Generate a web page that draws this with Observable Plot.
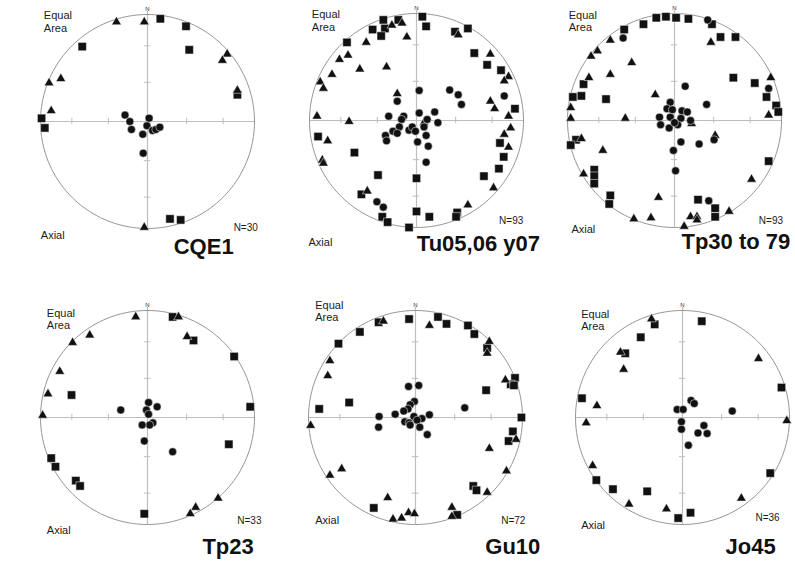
<!DOCTYPE html>
<html><head><meta charset="utf-8">
<script src="https://cdn.jsdelivr.net/npm/d3@7"></script>
<script src="https://cdn.jsdelivr.net/npm/@observablehq/plot@0.6"></script>
<style>
body{margin:0;background:#fff;}
#wrap{position:relative;width:795px;height:582px;overflow:hidden;background:#fff;}
#wrap svg{position:absolute;}
</style></head><body><div id="wrap"></div>
<script>
// ---- data (unit-circle coordinates: x east, y north) ----
const panelNames = ["CQE1", "Tu05,06 y07", "Tp30 to 79", "Tp23", "Gu10", "Jo45"];
const panelCounts = [30, 93, 93, 33, 72, 36];

const tri1 = [[-0.29,0.93],[-0.03,0.93],[0.745,0.63],[0.70,0.57],[-0.92,0.36],[-0.81,0.40],[-0.90,0.10],[0.84,0.29],[-0.03,-0.99]];
const sq1 = [[0.12,0.96],[0.36,0.89],[-0.61,0.70],[0.39,0.67],[0.84,0.25],[-0.99,0.03],[-0.96,-0.06],[0.21,-0.91],[0.31,-0.92]];
const dot1 = [[-0.21,0.06],[-0.165,0.0],[-0.15,-0.075],[0.015,0.03],[-0.005,-0.04],[0.047,-0.084],[0.078,-0.075],[0.115,-0.053],[-0.044,-0.12],[-0.04,-0.296]];

const sq2 = [[-0.31,0.94],[-0.17,0.94],[0.055,0.97],[0.09,0.88],[-0.41,0.85],[-0.295,0.86],[-0.33,0.79],[-0.65,0.73],[0.36,0.83],[0.48,0.86],[0.54,0.63],[0.66,0.52],[0.79,0.47],[0.92,0.11],[-0.92,-0.15],[-0.58,-0.30],[0.78,-0.21],[0.815,-0.34],[0.77,-0.45],[0.63,-0.52],[-0.36,-0.51],[0.0,-0.54],[-0.515,-0.69],[-0.32,-0.90],[-0.27,-0.95],[-0.07,-1.0],[0.0,-0.85],[0.12,-0.90],[0.38,-0.86],[0.37,-0.90]];
const tri2 = [[-0.23,0.89],[-0.135,0.91],[-0.09,0.78],[-0.47,0.73],[-0.64,0.61],[-0.72,0.57],[-0.79,0.43],[-0.53,0.48],[-0.28,0.50],[-0.90,0.36],[-0.87,0.30],[0.39,0.80],[0.69,0.62],[0.86,0.41],[0.82,0.37],[0.69,0.18],[0.73,0.11],[0.86,0.04],[0.88,-0.07],[0.82,-0.13],[0.86,-0.25],[-0.18,0.25],[-0.93,0.04],[-0.63,-0.01],[-0.83,-0.19],[-0.88,-0.37],[-0.87,-0.40],[-0.46,-0.66],[0.72,-0.63],[0.48,-0.79],[0.07,-0.02]];
const dot2 = [[0.025,0.28],[0.31,0.285],[0.39,0.24],[0.42,0.15],[0.82,0.23],[-0.18,0.18],[0.025,0.07],[0.17,0.08],[-0.26,0.04],[-0.12,0.04],[-0.14,0.01],[0.10,0.01],[0.20,-0.02],[-0.16,-0.06],[-0.22,-0.10],[-0.18,-0.12],[-0.29,-0.14],[-0.28,-0.19],[-0.07,-0.09],[-0.04,-0.06],[-0.01,-0.10],[0.07,-0.06],[0.09,-0.14],[0.01,-0.20],[0.11,-0.24],[0.09,-0.39],[-0.37,-0.76],[-0.31,-0.81]];

const sq3 = [[-0.17,0.96],[-0.08,0.97],[0.015,0.96],[0.13,0.95],[-0.29,0.90],[-0.47,0.85],[0.35,0.90],[0.43,0.78],[0.57,0.78],[0.55,0.40],[0.75,0.35],[0.86,0.22],[0.95,0.14],[0.97,0.08],[-0.85,0.34],[-0.95,0.22],[-0.87,0.23],[-0.64,0.20],[-0.92,-0.18],[-0.97,-0.23],[-0.75,-0.46],[-0.75,-0.52],[-0.75,-0.59],[-0.60,-0.70],[-0.61,-0.78],[0.22,-0.74],[0.38,-0.82],[0.38,-0.90],[0.88,-0.38]];
const tri3 = [[-0.60,0.75],[-0.72,0.65],[-0.78,0.60],[-0.40,0.54],[-0.60,0.43],[-0.80,0.40],[0.34,0.73],[0.90,0.40],[-0.18,0.24],[-0.97,0.12],[-0.97,0.02],[-0.46,0.02],[0.88,0.05],[-0.87,-0.17],[-0.67,-0.28],[-0.85,-0.50],[0.38,-0.14],[0.72,-0.55],[-0.15,-0.72],[-0.38,-0.92],[-0.22,-0.91],[0.15,-0.90],[0.21,-0.90],[0.21,-0.93],[0.51,-0.85],[0.09,-0.99],[0.16,-0.03]];
const dot3 = [[-0.48,0.77],[0.31,0.94],[0.88,0.30],[0.10,0.32],[0.30,0.15],[-0.04,0.17],[-0.07,0.11],[-0.02,0.10],[0.07,0.09],[0.12,0.08],[-0.14,0.03],[-0.04,0.03],[0.06,0.02],[0.15,0.0],[-0.13,-0.04],[-0.05,-0.07],[0.03,-0.04],[0.0,-0.02],[0.06,-0.20],[0.23,-0.22],[0.37,-0.18],[-0.01,-0.28],[0.01,-0.47],[0.32,-0.75]];

const tri4 = [[-0.11,0.94],[0.29,0.94],[0.37,0.755],[-0.54,0.77],[-0.70,0.70],[-0.82,0.43],[-0.93,0.22],[-0.98,0.02],[0.66,-0.755],[0.45,-0.84],[0.40,-0.90]];
const sq4 = [[0.235,0.94],[0.43,0.72],[0.81,0.57],[0.96,0.10],[-0.71,0.21],[0.76,-0.25],[-0.90,-0.38],[-0.86,-0.46],[-0.67,-0.59],[-0.63,-0.64],[-0.03,-0.90]];
const dot4 = [[0.01,0.14],[0.09,0.10],[-0.25,0.07],[-0.01,0.07],[0.01,0.03],[0.05,-0.05],[0.02,-0.07],[-0.05,-0.07],[-0.03,-0.22],[0.235,-0.32]];

const sq5 = [[-0.345,0.89],[-0.06,0.92],[0.21,0.94],[0.29,0.875],[0.49,0.86],[0.55,0.78],[-0.52,0.80],[-0.72,0.69],[0.67,0.65],[0.93,0.37],[0.89,0.31],[0.92,0.30],[0.66,0.255],[-0.62,0.14],[-0.90,0.08],[0.99,0.0],[0.91,-0.13],[0.87,-0.22],[0.54,-0.64],[0.57,-0.68],[-0.39,-0.845],[0.39,-0.91]];
const tri5 = [[-0.30,0.90],[0.13,0.86],[0.69,0.71],[0.67,0.60],[-0.80,0.53],[-0.82,0.39],[0.84,0.35],[-0.98,-0.075],[0.94,-0.205],[0.69,-0.29],[0.85,-0.50],[-0.69,-0.48],[-0.80,-0.54],[0.67,-0.70],[-0.26,-0.75],[0.34,-0.84],[0.34,-0.925],[-0.21,-0.95],[-0.13,-0.94],[-0.065,-0.89],[-0.01,-0.90]];
const dot5 = [[-0.065,0.29],[0.03,0.30],[-0.01,0.15],[-0.05,0.12],[-0.07,0.08],[-0.11,0.06],[-0.19,0.03],[-0.34,0.01],[-0.345,-0.09],[-0.015,0.01],[0.06,-0.01],[0.13,0.025],[-0.10,-0.04],[-0.06,-0.05],[-0.05,-0.07],[0.015,-0.025],[0.04,-0.09],[0.11,-0.16],[0.46,0.09]];

const tri6 = [[-0.29,0.92],[-0.58,0.61],[-0.55,0.45],[0.71,0.55],[-0.80,0.11],[-0.90,-0.05],[0.975,-0.03],[-0.84,-0.45],[-0.50,-0.81],[-0.15,-0.855],[0.55,-0.755]];
const sq6 = [[-0.26,0.87],[0.18,0.90],[-0.39,0.75],[-0.535,0.60],[0.925,0.28],[-0.94,0.18],[0.82,-0.52],[-0.805,-0.585],[-0.65,-0.67],[-0.33,-0.69],[0.075,-0.89],[-0.04,-0.94]];
const dot6 = [[0.08,0.16],[0.11,0.13],[-0.05,0.075],[0.006,0.075],[0.465,0.06],[-0.01,-0.04],[-0.01,-0.11],[0.20,-0.075],[0.145,-0.145],[0.23,-0.15],[0.055,-0.26]];

const tickLevels = [-0.707, -0.366, 0.366, 0.707];

// ---- layout (panel centres in page pixels, label anchors in unit coords) ----
const layout = [
  {cx:146.7, cy:121.0, eq:[-0.969,0.995], ar:[-0.969,0.874], ax:[-0.997,-1.061], n:[0.805,-0.998], t:[0.245,-1.171]},
  {cx:415.7, cy:119.5, eq:[-0.978,0.988], ar:[-0.978,0.869], ax:[-1.009,-1.140], n:[0.772,-0.940], t:[0.003,-1.157]},
  {cx:674.0, cy:120.3, eq:[-0.988,0.986], ar:[-0.988,0.867], ax:[-0.963,-1.023], n:[0.788,-0.933], t:[0.065,-1.131]},
  {cx:146.7, cy:417.3, eq:[-0.941,0.973], ar:[-0.941,0.864], ax:[-0.941,-1.058], n:[0.839,-0.961], t:[0.513,-1.206]},
  {cx:415.3, cy:417.3, eq:[-0.937,1.051], ar:[-0.937,0.936], ax:[-0.937,-0.958], n:[0.801,-0.961], t:[0.652,-1.206]},
  {cx:682.0, cy:417.3, eq:[-0.947,0.967], ar:[-0.947,0.849], ax:[-0.947,-1.005], n:[0.682,-0.936], t:[0.402,-1.206]}
];
const sets = [[tri1,sq1,dot1],[tri2,sq2,dot2],[tri3,sq3,dot3],[tri4,sq4,dot4],[tri5,sq5,dot5],[tri6,sq6,dot6]];

const R = 107, W = 270, H = 300, TOP = 130;
const ring = d3.range(0, 361, 2).map(a => ({x: Math.cos(a * Math.PI / 180), y: Math.sin(a * Math.PI / 180)}));
const FONT = "'Liberation Sans', Arial, sans-serif";
const wrap = document.getElementById("wrap");

sets.forEach(([tri, sq, dot], i) => {
  const L = layout[i];
  const small = [
    {p: L.eq, s: "Equal", f: 11},
    {p: L.ar, s: "Area", f: 11},
    {p: L.ax, s: "Axial", f: 11},
    {p: L.n, s: "N=" + panelCounts[i], f: 10}
  ];
  const symOpts = {x: d => d[0], y: d => d[1], fill: "#111", stroke: "#fff", strokeWidth: 0.5};
  const svg = Plot.plot({
    width: W, height: H, margin: 0,
    x: {domain: [-W / 2 / R, W / 2 / R], axis: null},
    y: {domain: [-(H - TOP) / R, TOP / R], axis: null},
    style: {background: "transparent", overflow: "visible", fontFamily: FONT},
    marks: [
      Plot.ruleY([0], {x1: -1, x2: 1, stroke: "#bdbdbd", strokeWidth: 1.2}),
      Plot.ruleX([0], {y1: -1, y2: 1.03, stroke: "#bdbdbd", strokeWidth: 1.2}),
      Plot.ruleX(tickLevels, {x: d => d, y1: -0.03, y2: 0.03, stroke: "#bdbdbd", strokeWidth: 1}),
      Plot.ruleY(tickLevels, {y: d => d, x1: -0.03, x2: 0.03, stroke: "#bdbdbd", strokeWidth: 1}),
      Plot.line(ring, {x: "x", y: "y", stroke: "#8a8a8a", strokeWidth: 0.9}),
      Plot.text(["N"], {x: 0, y: 1, dy: -5, fontSize: 6, fill: "#333"}),
      Plot.dot(sq, {...symOpts, symbol: "square", r: 4.7}),
      Plot.dot(tri, {...symOpts, symbol: "triangle", r: 3.6}),
      Plot.dot(dot, {...symOpts, symbol: "circle", r: 4.0}),
      Plot.text(small, {x: d => d.p[0], y: d => d.p[1], text: d => d.s, fontSize: d => d.f, textAnchor: "start", fill: "#1a1a1a"}),
      Plot.text([panelNames[i]], {x: L.t[0], y: L.t[1], text: d => d, fontSize: 22, fontWeight: "bold", textAnchor: "start", fill: "#111"})
    ]
  });
  svg.style.position = "absolute";
  svg.style.left = (L.cx - W / 2) + "px";
  svg.style.top = (L.cy - TOP) + "px";
  wrap.appendChild(svg);
});
</script>
</body></html>
